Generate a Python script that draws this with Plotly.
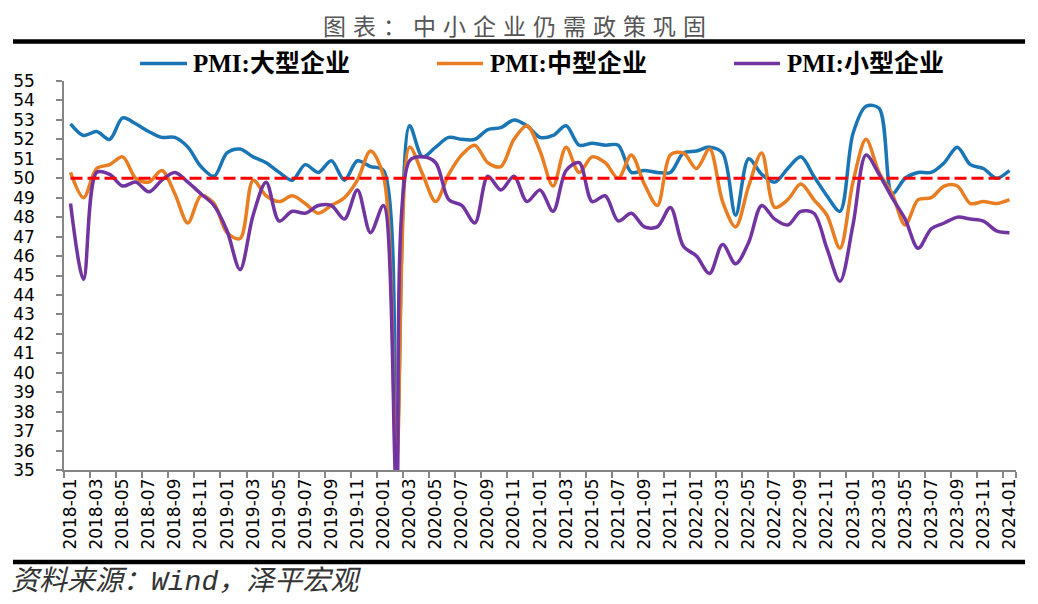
import pandas as pd
import plotly.graph_objects as go

# 月份类别
months = pd.date_range('2018-01-01', '2024-01-01', freq='MS').strftime('%Y-%m').tolist()

# PMI: 大型企业
pmi_large = [
    52.8, 52.2, 52.4, 52.0, 53.1, 52.8, 52.4, 52.1, 52.1, 51.6, 50.6, 50.1,
    51.3, 51.5, 51.1, 50.8, 50.3, 49.9, 50.7, 50.3, 50.9, 49.9, 50.9, 50.6,
    50.4, 36.4, 52.7, 51.1, 51.6, 52.1, 52.0, 52.0, 52.5, 52.6, 53.0, 52.7,
    52.1, 52.2, 52.7, 51.7, 51.8, 51.7, 51.7, 50.3, 50.4, 50.3, 50.3, 51.3,
    51.4, 51.6, 51.3, 48.1, 51.0, 50.2, 49.8, 50.5, 51.1, 50.1, 49.1, 48.3,
    52.3, 53.7, 53.6, 49.2, 50.0, 50.3, 50.3, 50.8, 51.6, 50.7, 50.5, 50.0,
    50.4,
]
# PMI: 中型企业
pmi_medium = [
    50.3, 49.0, 50.5, 50.7, 51.1, 50.0, 49.8, 50.4, 49.2, 47.7, 49.1, 48.7,
    47.2, 46.9, 49.9, 49.1, 48.8, 49.1, 48.7, 48.2, 48.6, 49.0, 49.9, 51.4,
    50.1, 35.5, 51.6, 50.2, 48.8, 50.2, 51.2, 51.7, 50.8, 50.6, 52.0, 52.7,
    51.4, 49.6, 51.6, 50.3, 51.1, 50.8, 50.0, 51.2, 49.7, 48.6, 51.2, 51.3,
    50.5, 51.5, 48.8, 47.5, 49.6, 51.3, 48.5, 48.9, 49.7, 48.9, 48.1, 46.4,
    49.8, 52.0, 50.3, 49.2, 47.6, 48.9, 49.0, 49.6, 49.6, 48.7, 48.8, 48.7,
    48.9,
]
# PMI: 小型企业
pmi_small = [
    48.7, 44.8, 50.3, 50.2, 49.6, 49.8, 49.3, 49.9, 50.3, 49.8, 49.2, 48.6,
    47.3, 45.3, 48.1, 49.8, 47.8, 48.3, 48.2, 48.6, 48.6, 47.9, 49.4, 47.2,
    48.6, 34.1, 50.9, 51.1, 50.8, 48.9, 48.6, 47.7, 50.1, 49.4, 50.1, 48.8,
    49.4, 48.3, 50.4, 50.8, 48.8, 49.1, 47.8, 48.2, 47.5, 47.5, 48.5, 46.5,
    46.0, 45.1, 46.6, 45.6, 46.7, 48.6, 47.9, 47.6, 48.3, 48.2, 46.4, 44.7,
    47.6, 51.2, 50.2, 49.0, 47.9, 46.4, 47.4, 47.7, 48.0, 47.9, 47.8, 47.3,
    47.2,
]
# 荣枯线
boom_bust = 50

series = [
    ('PMI:大型企业', pmi_large, '#1A75B5'),
    ('PMI:中型企业', pmi_medium, '#E87D22'),
    ('PMI:小型企业', pmi_small, '#7134A0'),
]
# 图例位置（纸面坐标）：线段起点、终点、文字起点
legend_pos = [(0.0798, 0.1292, 0.1330), (0.3918, 0.4401, 0.4450), (0.7038, 0.7521, 0.7570)]
legend_y = 1.045

fig = go.Figure()

for name, values, color in series:
    fig.add_trace(
        go.Scatter(
            x=months,
            y=values,
            name=name,
            mode='lines',
            line=dict(color=color, width=3.5, shape='spline', smoothing=0.9),
        )
    )

fig.add_trace(
    go.Scatter(
        x=months,
        y=[boom_bust] * len(months),
        mode='lines',
        line=dict(color='#FF0000', width=3, dash='12px,5px'),
        showlegend=False,
        hoverinfo='skip',
    )
)

axis_color = '#868686'

# 页面自带 8px 边距，图尺寸相应缩小
fig.update_layout(
    width=1030,
    height=596,
    autosize=False,
    margin=dict(l=56, r=22, t=73, b=134),
    paper_bgcolor='white',
    plot_bgcolor='white',
    font=dict(family='DejaVu Sans', size=17, color='black'),
    showlegend=False,
    xaxis=dict(
        type='category',
        range=[-0.5, len(months) - 0.5],
        tickmode='array',
        tickvals=months[::2],
        ticktext=months[::2],
        tickson='boundaries',
        tickangle=-90,
        ticks='outside',
        ticklen=6,
        tickcolor=axis_color,
        tickwidth=1.5,
        showline=True,
        linecolor=axis_color,
        linewidth=1.5,
        showgrid=False,
        zeroline=False,
        automargin=False,
        tickfont=dict(family='DejaVu Sans', size=17, color='black'),
    ),
    yaxis=dict(
        range=[35, 55],
        dtick=1,
        ticks='outside',
        ticklen=6,
        tickcolor=axis_color,
        tickwidth=1.5,
        showline=True,
        linecolor=axis_color,
        linewidth=1.5,
        showgrid=False,
        zeroline=False,
        automargin=False,
        ticklabelstandoff=18,
        tickfont=dict(family='DejaVu Sans', size=17, color='black'),
    ),
)

# 图例（手工绘制）
for (name, _, color), (x0, x1, xt) in zip(series, legend_pos):
    fig.add_shape(
        type='line',
        xref='paper', yref='paper',
        x0=x0, x1=x1, y0=legend_y, y1=legend_y,
        line=dict(color=color, width=3.5),
    )
    fig.add_annotation(
        text=name,
        xref='paper', yref='paper',
        x=xt, y=legend_y,
        xanchor='left', yanchor='middle',
        showarrow=False,
        font=dict(family='Liberation Serif, Noto Sans CJK SC', size=25,
                  color='black', weight='bold'),
    )

# 标题、分隔线与资料来源
fig.add_annotation(
    text='<span style="letter-spacing:7px">图表：中小企业仍需政策巩固</span>',
    xref='paper', yref='paper',
    x=0.477, y=1.1452,
    xanchor='center', yanchor='middle',
    showarrow=False,
    font=dict(family='Noto Sans CJK SC', size=23, color='#555555'),
)
fig.add_annotation(
    text='资料来源：Wind，泽平宏观',
    xref='paper', yref='paper',
    x=-0.058, y=-0.288,
    xanchor='left', yanchor='middle',
    showarrow=False,
    font=dict(family='Liberation Mono, Noto Sans CJK SC', size=28,
              color='#333333', style='italic'),
)
for y_line in (1.1017, -0.2368):
    fig.add_shape(
        type='line',
        xref='paper', yref='paper',
        x0=-0.0536, x1=1.0095, y0=y_line, y1=y_line,
        line=dict(color='black', width=4.5),
    )

fig.write_html('out.html')
